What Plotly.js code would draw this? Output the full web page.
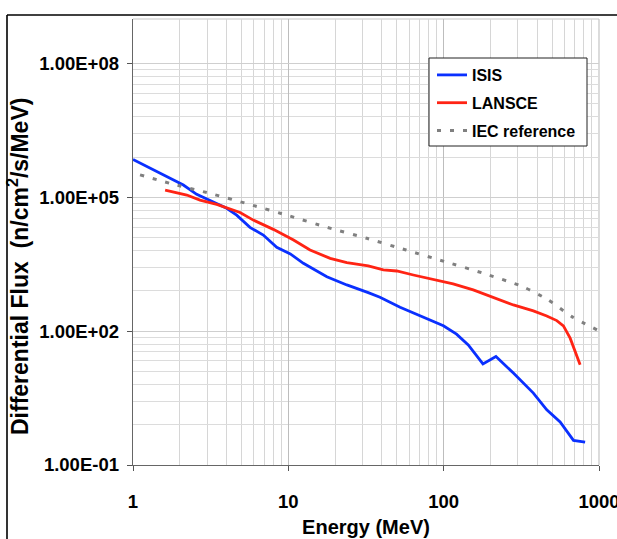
<!DOCTYPE html>
<html>
<head>
<meta charset="utf-8">
<script src="https://cdn.plot.ly/plotly-3.0.1.min.js"></script>
<style>html,body{margin:0;padding:0;background:#fff;}#chart{width:617px;height:539px;}</style>
</head>
<body>
<div id="chart"></div>
<script>
// ISIS spectrum (MeV, n/cm2/s/MeV)
const isisEnergy = [1.0, 1.29, 1.73, 2.11, 2.57, 3.13, 4.01, 4.65, 5.66, 6.9, 8.42, 10.3, 12.5, 17.7, 23.8, 32.7, 38.9, 52.4, 77.8, 99.6, 121, 144, 179, 217, 281, 378, 461, 562, 685, 814];
const isisFlux = [7.1e5, 4.46e5, 2.67e5, 1.89e5, 1.17e5, 8.4e4, 5.7e4, 4.0e4, 2.13e4, 1.43e4, 7.6e3, 5.4e3, 3.33e3, 1.67e3, 1.09e3, 733, 578, 345, 195, 132, 85.7, 49.4, 18.5, 27.0, 11.5, 4.1, 1.73, 0.92, 0.356, 0.327];

// LANSCE spectrum
const lansceEnergy = [1.61, 2.22, 2.70, 3.46, 4.89, 5.95, 8.0, 10.8, 13.8, 18.6, 23.8, 32.7, 40.9, 49.9, 63.8, 90.3, 115, 155, 209, 281, 378, 461, 535, 590, 652, 756];
const lansceFlux = [1.46e5, 1.13e5, 8.7e4, 7.0e4, 4.6e4, 3.1e4, 1.92e4, 1.11e4, 6.6e3, 4.3e3, 3.44e3, 2.9e3, 2.36e3, 2.24e3, 1.82e3, 1.41e3, 1.15e3, 841, 578, 388, 285, 220, 173, 132, 69.8, 17.6];

// IEC reference spectrum
const iecEnergy = [1.11, 1.73, 3.13, 5.61, 10.1, 17.8, 32.0, 57.3, 102, 180, 323, 472, 668, 1000];
const iecFlux = [3.2e5, 2.06e5, 1.23e5, 7.0e4, 3.87e4, 2.13e4, 1.21e4, 6.6e3, 3.62e3, 1.99e3, 998, 502, 212, 102];

// Tick labels
const xTickVals = [1, 10, 100, 1000];
const xTickText = ['1', '10', '100', '1000'];
const yTickVals = [0.1, 100, 1e5, 1e8];
const yTickText = ['1.00E-01', '1.00E+02', '1.00E+05', '1.00E+08'];

// minor gridline positions
const xMinor = [];
[1, 10, 100].forEach(d => { for (let k = 2; k <= 9; k++) xMinor.push(k * d); });
const yMinor = [];
[0.1, 100, 1e5].forEach(d => { for (let k = 2; k <= 9; k++) yMinor.push(k * k * k * d); });

const FONT = 'Liberation Sans, Arial, sans-serif';

const traces = [
  {x: isisEnergy, y: isisFlux, name: '<b>ISIS</b>', mode: 'lines', legendgroup: 'a',
   line: {color: '#0a30ff', width: 2.8}},
  {x: lansceEnergy, y: lansceFlux, name: '<b>LANSCE</b>', mode: 'lines', legendgroup: 'b',
   line: {color: '#ff2414', width: 2.8}},
  {x: iecEnergy, y: iecFlux, name: '<b>IEC reference</b>', mode: 'lines', legendgroup: 'c',
   line: {color: '#808080', width: 3, dash: '4px,9px', shape: 'spline', smoothing: 0.6}}
];

const layout = {
  width: 617, height: 539,
  margin: {l: 133, r: 18, t: 19, b: 74},
  paper_bgcolor: '#ffffff', plot_bgcolor: '#ffffff',
  font: {family: FONT, color: '#000'},
  showlegend: true,
  legend: {
    x: (432 - 133) / 466, xanchor: 'left',
    y: 1 - (58 - 19) / 446, yanchor: 'top',
    bgcolor: 'rgba(0,0,0,0)', borderwidth: 0,
    font: {family: FONT, size: 16, color: '#000'},
    traceorder: 'grouped', tracegroupgap: 4
  },
  xaxis: {
    type: 'log', range: [0, 3],
    tickmode: 'array', tickvals: xTickVals, ticktext: xTickText,
    ticks: 'outside', ticklen: 5, tickcolor: '#555', tickwidth: 1,
    tickfont: {family: FONT, size: 18.5, color: '#000', weight: 'bold'},
    ticklabelstandoff: 14, ticklabeloverflow: 'allow',
    showline: true, linecolor: '#666', linewidth: 1.3,
    showgrid: true, gridcolor: '#bdbdbd', gridwidth: 1,
    minor: {tickmode: 'array', tickvals: xMinor, showgrid: true, gridcolor: '#d6d6d6', gridwidth: 1, ticks: ''},
    zeroline: false,
    title: {text: '<b>Energy (MeV)</b>', font: {family: FONT, size: 20, color: '#000'}, standoff: 9}
  },
  yaxis: {
    type: 'log', range: [-1, 9],
    tickmode: 'array', tickvals: yTickVals, ticktext: yTickText,
    ticks: 'outside', ticklen: 5, tickcolor: '#555', tickwidth: 1,
    tickfont: {family: FONT, size: 18.5, color: '#000', weight: 'bold'},
    ticklabelstandoff: 4,
    showline: true, linecolor: '#666', linewidth: 1.3,
    showgrid: true, gridcolor: '#cfcfcf', gridwidth: 1,
    minor: {tickmode: 'array', tickvals: yMinor, showgrid: true, gridcolor: '#dcdcdc', gridwidth: 1, ticks: ''},
    zeroline: false
  },
  annotations: [{
    text: '<b>Differential Flux  (n/cm<sup>2</sup>/s/MeV)</b>',
    xref: 'paper', yref: 'paper',
    x: (18 - 133) / 466, y: (465 - 267) / 446,
    xanchor: 'center', yanchor: 'middle',
    textangle: -90, showarrow: false,
    font: {family: FONT, size: 23, color: '#000'}
  }],
  shapes: [
    // light grey top/right frame of plot area
    {type: 'line', xref: 'paper', yref: 'paper', x0: 0, x1: 1, y0: 1, y1: 1, line: {color: '#c4c4c4', width: 1.2}, layer: 'below'},
    {type: 'line', xref: 'paper', yref: 'paper', x0: 1, x1: 1, y0: 0, y1: 1, line: {color: '#c4c4c4', width: 1.2}, layer: 'below'},
    // legend box
    {type: 'rect', xref: 'paper', yref: 'paper', x0: (429 - 133) / 466, x1: (587 - 133) / 466,
     y0: (465 - 146) / 446, y1: (465 - 58) / 446, fillcolor: '#ffffff', line: {color: '#222', width: 1}, layer: 'above'},
    // outer figure border (top and left)
    {type: 'line', xref: 'paper', yref: 'paper', x0: (7 - 133) / 466, x1: 1.2, y0: 1 + 4 / 446, y1: 1 + 4 / 446, line: {color: '#000', width: 1.6}},
    {type: 'line', xref: 'paper', yref: 'paper', x0: (7 - 133) / 466, x1: (7 - 133) / 466, y0: -0.3, y1: 1 + 4 / 446, line: {color: '#000', width: 1.6}}
  ]
};

Plotly.newPlot('chart', traces, layout, {staticPlot: true, displayModeBar: false});
</script>
</body>
</html>
